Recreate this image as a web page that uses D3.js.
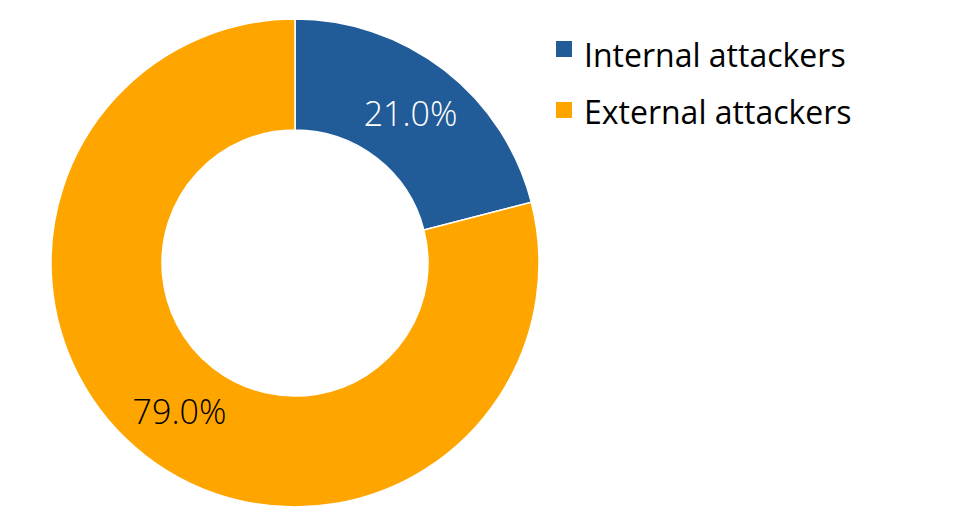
<!DOCTYPE html>
<html>
<head>
<meta charset="utf-8">
<script src="https://cdn.jsdelivr.net/npm/d3@7"></script>
<style>
  body { margin: 0; background: #fff; }
  text { font-family: "Open Sans", "Noto Sans", sans-serif; }
</style>
</head>
<body>
<div id="chart"></div>
<script>
// Data
var categories = ["Internal attackers", "External attackers"];
var shares = [21.0, 79.0];
var colors = ["#215b98", "#ffa500"];
var labelColors = ["#ffffff", "#000000"];

var svgWidth = 974;
var svgHeight = 527;

// donut geometry
var cx = 295, cy = 263;
var outerR = 244, innerR = 133;

var svg = d3.select("#chart")
  .append("svg")
  .attr("width", svgWidth)
  .attr("height", svgHeight);

var chartGroup = svg.append("g")
  .attr("transform", `translate(${cx}, ${cy})`);

var pie = d3.pie().sort(null).value(d => d);
var arc = d3.arc().innerRadius(innerR).outerRadius(outerR);

var arcs = pie(shares);

chartGroup.selectAll("path")
  .data(arcs)
  .enter()
  .append("path")
  .attr("d", arc)
  .attr("fill", (d, i) => colors[i])
  .attr("stroke", "#ffffff")
  .attr("stroke-width", 1.5);

// slice labels
chartGroup.selectAll("text.lbl")
  .data(arcs)
  .enter()
  .append("text")
  .attr("class", "lbl")
  .attr("transform", d => `translate(${arc.centroid(d)})`)
  .attr("text-anchor", "middle")
  .attr("dy", "0.35em")
  .attr("font-size", "34px")
  .attr("font-weight", 300)
  .attr("fill", (d, i) => labelColors[i])
  .text(d => d.data.toFixed(1) + "%");

// legend
var legend = svg.append("g")
  .attr("transform", "translate(556, 41)");

legend.selectAll("rect")
  .data(categories)
  .enter()
  .append("rect")
  .attr("y", (d, i) => i * 61)
  .attr("width", 16)
  .attr("height", 16)
  .attr("fill", (d, i) => colors[i]);

legend.selectAll("text")
  .data(categories)
  .enter()
  .append("text")
  .attr("x", 28)
  .attr("y", (d, i) => 25.5 + i * 57)
  .attr("font-size", "32px")
  .attr("fill", "#000")
  .text(d => d);
</script>
</body>
</html>
